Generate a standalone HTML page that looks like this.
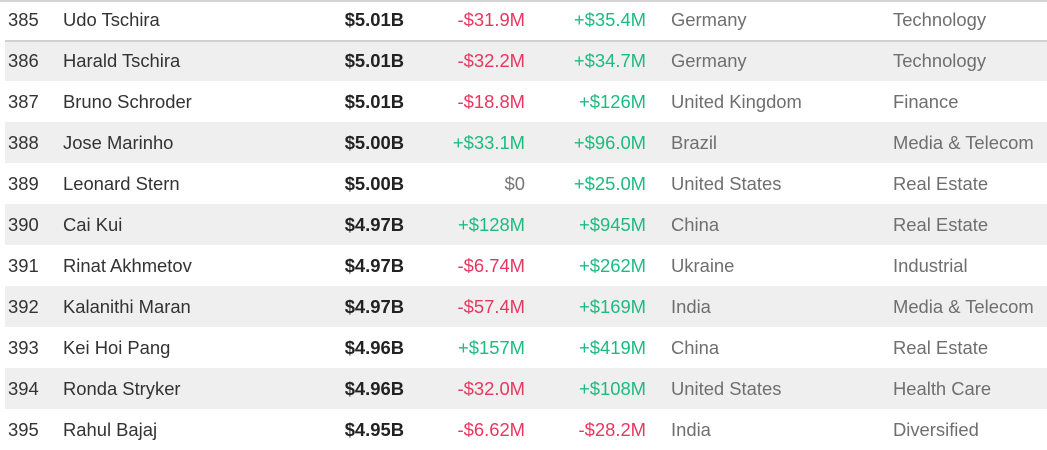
<!DOCTYPE html>
<html><head><meta charset="utf-8">
<style>
body{margin:0;width:1047px;height:442px;overflow:hidden;background:#fff;font-family:"Liberation Sans",Arial,sans-serif;font-size:18.4px;position:relative}
.topline{position:absolute;left:0;top:0;width:1047px;height:2px;background:#d4d4d4}
.row{position:absolute;left:5px;width:1042px;height:41px;line-height:41px;color:#333}
.row.alt{background:#efefef}
.c{position:absolute;top:0;white-space:nowrap}
.rank{left:3px}
.name{left:58px}
.nw{right:643px;font-weight:bold;color:#222}
.lc{right:522px}
.ytd{right:401px}
.ctry{left:666px;color:#6f6f6f}
.ind{left:888px;color:#6f6f6f}
.neg{color:#e8375f}.pos{color:#1dbb80}.zero{color:#777}
.sep{position:absolute;left:5px;width:1042px;height:2px;background:#d0d0d0;top:40px}
</style></head><body>
<div class="topline"></div>
<div id="t">
<div class="row" style="top:-1px"><span class="c rank">385</span><span class="c name">Udo Tschira</span><span class="c nw">$5.01B</span><span class="c lc neg">-$31.9M</span><span class="c ytd pos">+$35.4M</span><span class="c ctry">Germany</span><span class="c ind">Technology</span></div>
<div class="row alt" style="top:40px"><span class="c rank">386</span><span class="c name">Harald Tschira</span><span class="c nw">$5.01B</span><span class="c lc neg">-$32.2M</span><span class="c ytd pos">+$34.7M</span><span class="c ctry">Germany</span><span class="c ind">Technology</span></div>
<div class="row" style="top:81px"><span class="c rank">387</span><span class="c name">Bruno Schroder</span><span class="c nw">$5.01B</span><span class="c lc neg">-$18.8M</span><span class="c ytd pos">+$126M</span><span class="c ctry">United Kingdom</span><span class="c ind">Finance</span></div>
<div class="row alt" style="top:122px"><span class="c rank">388</span><span class="c name">Jose Marinho</span><span class="c nw">$5.00B</span><span class="c lc pos">+$33.1M</span><span class="c ytd pos">+$96.0M</span><span class="c ctry">Brazil</span><span class="c ind">Media &amp; Telecom</span></div>
<div class="row" style="top:163px"><span class="c rank">389</span><span class="c name">Leonard Stern</span><span class="c nw">$5.00B</span><span class="c lc zero">$0</span><span class="c ytd pos">+$25.0M</span><span class="c ctry">United States</span><span class="c ind">Real Estate</span></div>
<div class="row alt" style="top:204px"><span class="c rank">390</span><span class="c name">Cai Kui</span><span class="c nw">$4.97B</span><span class="c lc pos">+$128M</span><span class="c ytd pos">+$945M</span><span class="c ctry">China</span><span class="c ind">Real Estate</span></div>
<div class="row" style="top:245px"><span class="c rank">391</span><span class="c name">Rinat Akhmetov</span><span class="c nw">$4.97B</span><span class="c lc neg">-$6.74M</span><span class="c ytd pos">+$262M</span><span class="c ctry">Ukraine</span><span class="c ind">Industrial</span></div>
<div class="row alt" style="top:286px"><span class="c rank">392</span><span class="c name">Kalanithi Maran</span><span class="c nw">$4.97B</span><span class="c lc neg">-$57.4M</span><span class="c ytd pos">+$169M</span><span class="c ctry">India</span><span class="c ind">Media &amp; Telecom</span></div>
<div class="row" style="top:327px"><span class="c rank">393</span><span class="c name">Kei Hoi Pang</span><span class="c nw">$4.96B</span><span class="c lc pos">+$157M</span><span class="c ytd pos">+$419M</span><span class="c ctry">China</span><span class="c ind">Real Estate</span></div>
<div class="row alt" style="top:368px"><span class="c rank">394</span><span class="c name">Ronda Stryker</span><span class="c nw">$4.96B</span><span class="c lc neg">-$32.0M</span><span class="c ytd pos">+$108M</span><span class="c ctry">United States</span><span class="c ind">Health Care</span></div>
<div class="row" style="top:409px"><span class="c rank">395</span><span class="c name">Rahul Bajaj</span><span class="c nw">$4.95B</span><span class="c lc neg">-$6.62M</span><span class="c ytd neg">-$28.2M</span><span class="c ctry">India</span><span class="c ind">Diversified</span></div>
</div>
<div class="sep"></div>
</body></html>
